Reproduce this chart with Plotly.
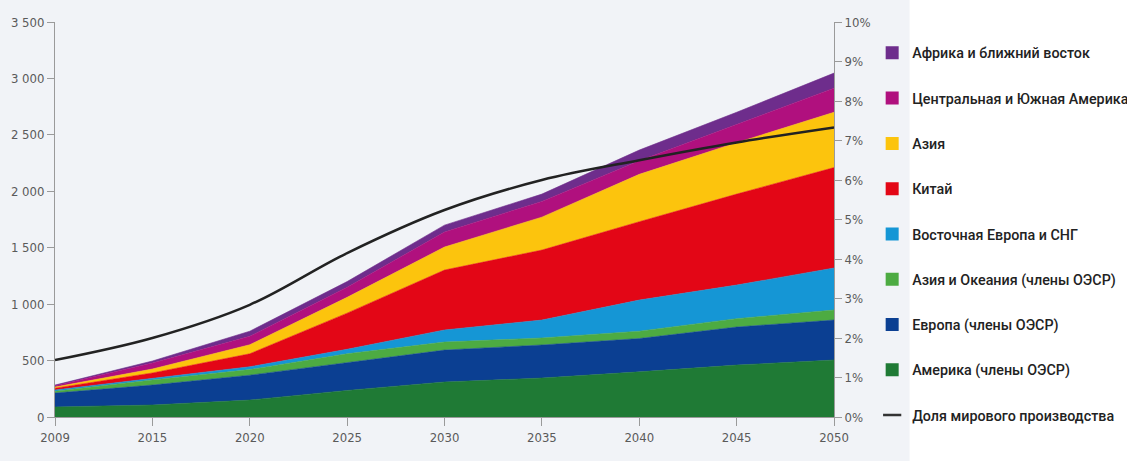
import plotly.graph_objects as go

# Years on the horizontal axis (evenly spaced categories)
years = ["2009", "2015", "2020", "2025", "2030", "2035", "2040", "2045", "2050"]

# Regional volumes (stacked, bottom to top)
america_oecd = [89, 106, 150, 235, 310, 345, 400, 460, 505]
europe_oecd = [123, 177, 220, 245, 283, 293, 295, 337, 354]
asia_oceania_oecd = [16, 45, 50, 80, 71, 62, 65, 74, 89]
east_europe_cis = [11, 17, 25, 40, 107, 159, 276, 298, 372]
china = [16, 45, 115, 320, 531, 620, 694, 806, 890]
asia = [10, 35, 80, 140, 204, 292, 420, 455, 490]
central_south_america = [12, 53, 75, 90, 133, 139, 120, 165, 214]
africa_middle_east = [6, 18, 45, 50, 61, 65, 95, 105, 133]

# Share of world production, %
world_share = [1.44, 2.0, 2.84, 4.15, 5.24, 6.0, 6.5, 6.95, 7.33]

left_ticks = [0, 500, 1000, 1500, 2000, 2500, 3000, 3500]
left_labels = ["0", "500", "1 000", "1 500", "2 000", "2 500", "3 000", "3 500"]
right_ticks = [0, 1, 2, 3, 4, 5, 6, 7, 8, 9, 10]
right_labels = ["0%", "1%", "2%", "3%", "4%", "5%", "6%", "7%", "8%", "9%", "10%"]

series = [
    ("Америка (члены ОЭСР)", america_oecd, "#1f7a35"),
    ("Европа (члены ОЭСР)", europe_oecd, "#0b3f92"),
    ("Азия и Океания (члены ОЭСР)", asia_oceania_oecd, "#4dab42"),
    ("Восточная Европа и СНГ", east_europe_cis, "#1596d5"),
    ("Китай", china, "#e30616"),
    ("Азия", asia, "#fcc40d"),
    ("Центральная и Южная Америка", central_south_america, "#b0107e"),
    ("Африка и ближний восток", africa_middle_east, "#6e2d8c"),
]

tick_font = dict(family="DejaVu Sans Condensed, Liberation Sans Narrow, sans-serif",
                 size=13, color="#5a5a5a")
legend_font = dict(family="Roboto, sans-serif", size=14.3, color="#222222", weight=500)

fig = go.Figure()

n = len(series)
for i, (name, vals, color) in enumerate(series):
    fig.add_trace(go.Scatter(
        x=years, y=vals, name=name, stackgroup="regions",
        mode="lines", line=dict(width=0.6, color=color),
        fillcolor=color, showlegend=False, hoverinfo="x+y+name",
    ))
    # legend entry with a square swatch
    fig.add_trace(go.Scatter(
        x=[None], y=[None], name=name, mode="markers",
        marker=dict(symbol="square", size=13, color=color),
        legendgroup=name, legendrank=n - i, showlegend=True,
    ))

fig.add_trace(go.Scatter(
    x=years, y=world_share, name="Доля мирового производства",
    mode="lines", line=dict(color="#222222", width=2.5, shape="spline"),
    yaxis="y2", showlegend=False,
))
fig.add_trace(go.Scatter(
    x=[None], y=[None], name="Доля мирового производства", mode="markers",
    marker=dict(symbol="line-ew", size=13, line=dict(color="#333333", width=2.5)),
    legendgroup="share", legendrank=n + 1, showlegend=True, yaxis="y2",
))

fig.update_layout(
    width=1127, height=461,
    margin=dict(l=55, r=293, t=22, b=44, autoexpand=False),
    paper_bgcolor="#ffffff",
    plot_bgcolor="#f1f3f7",
    showlegend=True,
    legend=dict(
        x=1.049, y=0.962, xanchor="left", yanchor="top",
        font=legend_font, bgcolor="rgba(0,0,0,0)",
        tracegroupgap=23.7, traceorder="grouped",
        itemwidth=30, maxheight=450,
    ),
    xaxis=dict(
        type="category", range=[0, 8], showgrid=False, zeroline=False,
        showline=True, linecolor="#9a9a9a", linewidth=1,
        ticks="outside", ticklen=8, tickcolor="#9a9a9a",
        tickfont=tick_font,
    ),
    yaxis=dict(
        range=[0, 3500], tickvals=left_ticks, ticktext=left_labels,
        showgrid=False, zeroline=False, showline=True, linecolor="#9a9a9a",
        ticks="outside", ticklen=7, tickcolor="#9a9a9a", tickfont=tick_font,
    ),
    yaxis2=dict(
        range=[0, 10], tickvals=right_ticks, ticktext=right_labels,
        overlaying="y", side="right", showgrid=False, zeroline=False,
        showline=True, linecolor="#9a9a9a",
        ticks="outside", ticklen=7, tickcolor="#9a9a9a", tickfont=tick_font,
    ),
    shapes=[dict(
        type="rect", xref="paper", yref="paper", x0=-0.08, x1=1.097,
        y0=-0.12, y1=1.06, fillcolor="#f1f3f7", line=dict(width=0), layer="below",
    )],
)

fig.write_html("out.html")
